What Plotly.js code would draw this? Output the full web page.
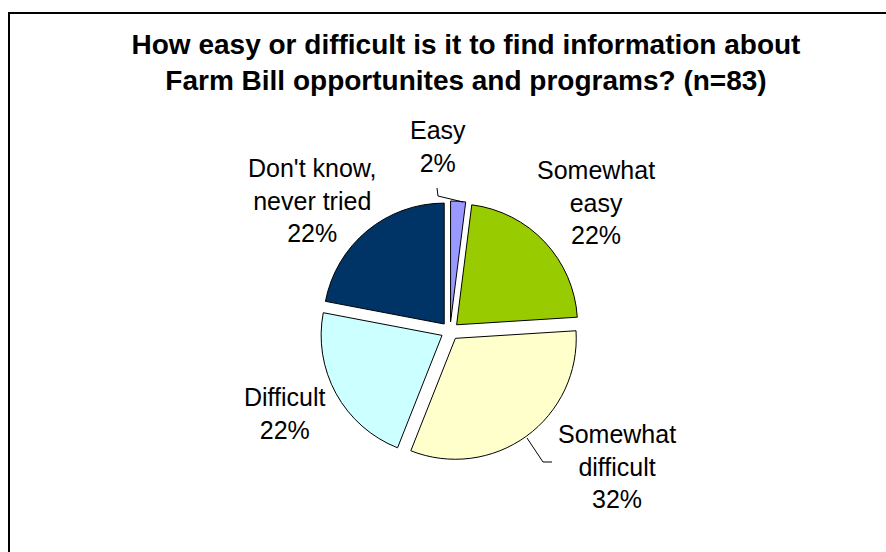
<!DOCTYPE html>
<html>
<head>
<meta charset="utf-8">
<script src="https://cdn.plot.ly/plotly-3.0.1.min.js"></script>
<style>
html,body{margin:0;padding:0;background:#fff;overflow:hidden;width:886px;height:552px;}
#wrap{position:relative;width:886px;height:552px;overflow:hidden;}
#chart{position:absolute;left:0;top:0;width:886px;height:552px;}
#frame{position:absolute;left:8px;top:12px;width:1000px;height:1000px;border-top:2px solid #000;border-left:2px solid #000;pointer-events:none;}
</style>
</head>
<body>
<div id="wrap"><div id="chart"></div><div id="frame"></div></div>
<script>
// Data
const categories = ['Easy', 'Somewhat easy', 'Somewhat difficult', 'Difficult', "Don't know, never tried"];
const displayLabels = ['Easy', 'Somewhat<br>easy', 'Somewhat<br>difficult', 'Difficult', "Don't know,<br>never tried"];
const percents = [2, 22, 32, 22, 22];
const colors = ['#9999FF', '#99CC00', '#FFFFCC', '#CCFFFF', '#003366'];

const W = 886, H = 552;
const px = x => x / W;
const py = y => 1 - y / H;

// label centre positions (pixels)
const labelPos = [[438, 147], [596, 202], [617, 466], [285, 413], [312, 200]];

const annotations = categories.map((c, i) => ({
  xref: 'paper', yref: 'paper',
  x: px(labelPos[i][0]), y: py(labelPos[i][1]),
  xanchor: 'center', yanchor: 'middle',
  text: displayLabels[i] + '<br>' + percents[i] + '%',
  showarrow: false,
  font: {family: 'Liberation Sans, Arial, sans-serif', size: 25, color: '#000'}
}));

const lineStyle = {color: '#000', width: 1};
const shapes = [
  // leader line: Easy
  {type: 'path', xref: 'paper', yref: 'paper',
   path: `M ${px(437)} ${py(188)} L ${px(438)} ${py(196)} L ${px(463)} ${py(202)}`, line: lineStyle},
  // leader line: Somewhat difficult
  {type: 'path', xref: 'paper', yref: 'paper',
   path: `M ${px(527)} ${py(438)} L ${px(543)} ${py(462)} L ${px(552)} ${py(462)}`, line: lineStyle}
];

const trace = {
  type: 'pie',
  labels: categories,
  values: percents,
  sort: false,
  direction: 'clockwise',
  rotation: 0,
  pull: 0.075,
  marker: {colors: colors, line: {color: '#000', width: 1}},
  textinfo: 'none',
  hoverinfo: 'label+percent',
  showlegend: false,
  domain: {x: [px(450 - 130), px(450 + 130)], y: [py(331 + 130), py(331 - 130)]}
};

const layout = {
  width: W, height: H,
  margin: {l: 0, r: 0, t: 0, b: 0},
  paper_bgcolor: '#fff',
  plot_bgcolor: '#fff',
  showlegend: false,
  title: {
    text: '<b>How easy or difficult is it to find information about<br>Farm Bill opportunites and programs? (n=83)</b>',
    x: px(466), xanchor: 'center', xref: 'paper',
    y: py(54), yanchor: 'middle', yref: 'container',
    font: {family: 'Liberation Sans, Arial, sans-serif', size: 28, color: '#000'}
  },
  annotations: annotations,
  shapes: shapes
};

Plotly.newPlot('chart', [trace], layout, {displayModeBar: false, staticPlot: true});
</script>
</body>
</html>
